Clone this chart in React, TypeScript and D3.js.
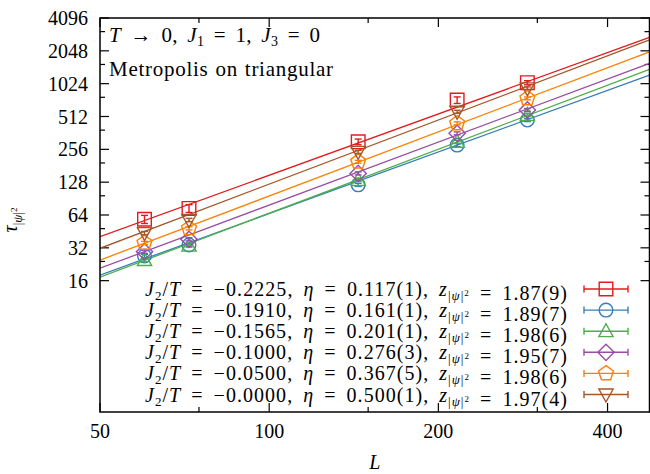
import React, { useEffect, useRef } from "react";
import * as d3 from "d3";

// system sizes
const sizes = [60, 72, 144, 216, 288];

// series labels
const j2t = ["−0.2225", "−0.1910", "−0.1565", "−0.1000", "−0.0500", "−0.0000"];
const etas = ["0.117(1)", "0.161(1)", "0.201(1)", "0.276(3)", "0.367(5)", "0.500(1)"];
const zs = ["1.87(9)", "1.89(7)", "1.98(6)", "1.95(7)", "1.98(6)", "1.97(4)"];
const colors = ["#e41a1c", "#377eb8", "#4daf4a", "#984ea3", "#ff7f00", "#a65628"];
const shapes = ["square", "circle", "triUp", "diamond", "pentagon", "triDown"];

// tau values
const tauRed = [58.5, 73.6, 300, 724, 1045];
const tauBlue = [26.9, 34.0, 121, 280, 475];
const tauGreen = [24.7, 33.5, 134, 300, 528];
const tauPurple = [29.5, 38.3, 154, 359, 588];
const tauOrange = [35.5, 48.3, 197, 443, 751];
const tauBrown = [43.7, 57.6, 243, 566, 928];

const errRed = [5, 6, 18, 50, 45];
const errBlue = [1, 1.2, 4, 9, 15];
const errGreen = [0.8, 1, 4, 9, 15];
const errPurple = [1, 1.3, 5, 11, 18];
const errOrange = [1.2, 1.6, 6, 14, 22];
const errBrown = [1.5, 2, 8, 18, 28];

// fitted power laws: values at the two ends of the x range
const fitL = [50, 475];
const fitRed = [40.5, 2723];
const fitBlue = [18.0, 1226];
const fitGreen = [17.2, 1387];
const fitPurple = [20.8, 1574];
const fitOrange = [24.7, 2008];
const fitBrown = [31.7, 2577];

const yTicks = [16, 32, 64, 128, 256, 512, 1024, 2048, 4096];
const yMinor = [24, 48, 96, 192, 384, 768, 1536, 3072];
const xTicks = [50, 100, 200, 400];
const xMinor = [75, 150, 300];

const series = [
  { tau: tauRed, err: errRed, fit: fitRed },
  { tau: tauBlue, err: errBlue, fit: fitBlue },
  { tau: tauGreen, err: errGreen, fit: fitGreen },
  { tau: tauPurple, err: errPurple, fit: fitPurple },
  { tau: tauOrange, err: errOrange, fit: fitOrange },
  { tau: tauBrown, err: errBrown, fit: fitBrown },
];

const FONT = "'Liberation Serif', 'DejaVu Serif', serif";

function markerPath(shape: string, s: number) {
  const p = d3.path();
  if (shape === "square") {
    p.rect(-s, -s, 2 * s, 2 * s);
  } else if (shape === "circle") {
    p.arc(0, 0, s, 0, 2 * Math.PI);
  } else if (shape === "triUp") {
    p.moveTo(0, -s * 1.1);
    p.lineTo(s * 1.05, s * 0.8);
    p.lineTo(-s * 1.05, s * 0.8);
    p.closePath();
  } else if (shape === "triDown") {
    p.moveTo(0, s * 1.1);
    p.lineTo(s * 1.05, -s * 0.8);
    p.lineTo(-s * 1.05, -s * 0.8);
    p.closePath();
  } else if (shape === "diamond") {
    p.moveTo(0, -s * 1.2);
    p.lineTo(s * 1.2, 0);
    p.lineTo(0, s * 1.2);
    p.lineTo(-s * 1.2, 0);
    p.closePath();
  } else {
    const r = s * 1.15;
    for (let i = 0; i < 5; i++) {
      const a = -Math.PI / 2 + (i * 2 * Math.PI) / 5;
      if (i === 0) p.moveTo(r * Math.cos(a), r * Math.sin(a));
      else p.lineTo(r * Math.cos(a), r * Math.sin(a));
    }
    p.closePath();
  }
  return p.toString();
}

// the original uses wider TeX fonts: open the word gaps a little, then spread the rest
function fitText(t: d3.Selection<SVGTextElement, unknown, null, undefined>, w: number, maxWs: number) {
  const n = t.node();
  if (!n) return;
  const len = n.getComputedTextLength();
  const gaps = (n.textContent || "").split(" ").length - 1;
  if (len <= 0 || len >= w) return;
  if (gaps > 0) t.style("word-spacing", `${Math.min((w - len) / gaps, maxWs)}px`);
  if (n.getComputedTextLength() < w) t.attr("textLength", w).attr("lengthAdjust", "spacing");
}

function App() {
  const svgRef = useRef<SVGSVGElement>(null);

  useEffect(() => {
    const W = 650, H = 474;
    const left = 100, right = 649.5, top = 18, bottom = 412;

    const svg = d3.select(svgRef.current);
    svg.selectAll("*").remove();
    svg.attr("width", W).attr("height", H).style("font-family", FONT);

    const x = d3.scaleLog().domain([50, 475]).range([left, right]);
    const y = d3.scaleLog().base(2).domain([1, 4096]).range([bottom, top]);

    svg.append("defs").append("clipPath").attr("id", "plotclip")
      .append("rect").attr("x", left).attr("y", top)
      .attr("width", right - left).attr("height", bottom - top);

    // ticks on all four sides, pointing in
    const tk = svg.append("g").attr("stroke", "#000").attr("stroke-width", 1.2);
    yTicks.forEach(v => {
      tk.append("line").attr("x1", left).attr("x2", left + 9).attr("y1", y(v)).attr("y2", y(v));
      tk.append("line").attr("x1", right).attr("x2", right - 9).attr("y1", y(v)).attr("y2", y(v));
    });
    yMinor.forEach(v => {
      tk.append("line").attr("x1", left).attr("x2", left + 5).attr("y1", y(v)).attr("y2", y(v));
      tk.append("line").attr("x1", right).attr("x2", right - 5).attr("y1", y(v)).attr("y2", y(v));
    });
    xTicks.forEach(v => {
      tk.append("line").attr("x1", x(v)).attr("x2", x(v)).attr("y1", bottom).attr("y2", bottom - 9);
      tk.append("line").attr("x1", x(v)).attr("x2", x(v)).attr("y1", top).attr("y2", top + 9);
    });
    xMinor.forEach(v => {
      tk.append("line").attr("x1", x(v)).attr("x2", x(v)).attr("y1", bottom).attr("y2", bottom - 5);
      tk.append("line").attr("x1", x(v)).attr("x2", x(v)).attr("y1", top).attr("y2", top + 5);
    });

    svg.append("g").selectAll("text").data(yTicks).enter().append("text")
      .attr("x", 88).attr("y", d => y(d)).attr("dy", "0.35em")
      .attr("text-anchor", "end").style("font-size", "20px").text(d => d);

    svg.append("g").selectAll("text").data(xTicks).enter().append("text")
      .attr("x", d => x(d)).attr("y", 438)
      .attr("text-anchor", "middle").style("font-size", "20px").text(d => d);

    // axis titles
    svg.append("text").attr("x", (left + right) / 2).attr("y", 469)
      .attr("text-anchor", "middle").style("font-size", "20px").style("font-style", "italic").text("L");

    const yl = svg.append("text").attr("transform", "translate(17,220) rotate(-90)")
      .attr("text-anchor", "middle").style("font-size", "20px");
    yl.append("tspan").style("font-style", "italic").text("τ");
    yl.append("tspan").attr("dy", 5).style("font-size", "13px").text("|");
    yl.append("tspan").style("font-size", "13px").style("font-style", "italic").text("ψ");
    yl.append("tspan").style("font-size", "13px").text("|");
    yl.append("tspan").attr("dy", -5).style("font-size", "9px").text("2");

    // fit lines
    const line = d3.line<number>().x((_, i) => x(fitL[i])).y(d => y(d));
    const fits = svg.append("g").attr("clip-path", "url(#plotclip)");
    series.forEach((s, i) => {
      fits.append("path").datum(s.fit).attr("d", line)
        .attr("fill", "none").attr("stroke", colors[i]).attr("stroke-width", 1.3);
    });

    // data points with error bars
    series.forEach((s, i) => {
      const g = svg.append("g").attr("stroke", colors[i]).attr("fill", "none").attr("stroke-width", 1.4);
      s.tau.forEach((v, j) => {
        const cx = x(sizes[j]);
        const y1 = y(v - s.err[j]), y2 = y(v + s.err[j]);
        g.append("line").attr("x1", cx).attr("x2", cx).attr("y1", y1).attr("y2", y2);
        g.append("line").attr("x1", cx - 3.5).attr("x2", cx + 3.5).attr("y1", y1).attr("y2", y1);
        g.append("line").attr("x1", cx - 3.5).attr("x2", cx + 3.5).attr("y1", y2).attr("y2", y2);
        g.append("path").attr("d", markerPath(shapes[i], 6.8))
          .attr("transform", `translate(${cx},${y(v)})`);
      });
    });

    // top annotations
    const a1 = svg.append("text").attr("x", 109).attr("y", 42).style("font-size", "21px");
    a1.append("tspan").style("font-style", "italic").text("T");
    a1.append("tspan").text(" → 0, ");
    a1.append("tspan").style("font-style", "italic").text("J");
    a1.append("tspan").attr("dy", 4).style("font-size", "14px").text("1");
    a1.append("tspan").attr("dy", -4).text(" = 1, ");
    a1.append("tspan").style("font-style", "italic").text("J");
    a1.append("tspan").attr("dy", 4).style("font-size", "14px").text("3");
    a1.append("tspan").attr("dy", -4).text(" = 0");
    fitText(a1, 211, 4);

    const a2 = svg.append("text").attr("x", 109).attr("y", 76).style("font-size", "21px")
      .text("Metropolis on triangular");
    fitText(a2, 224, 1);

    // legend
    const leg = svg.append("g");
    j2t.forEach((lab, i) => {
      const ly = 289 + i * 21.1;
      const t = leg.append("text").attr("x", 145).attr("y", ly).attr("dy", "0.35em")
        .style("font-size", "20px");
      t.append("tspan").style("font-style", "italic").text("J");
      t.append("tspan").attr("dy", 4).style("font-size", "13px").text("2");
      t.append("tspan").attr("dy", -4).text("/");
      t.append("tspan").style("font-style", "italic").text("T");
      t.append("tspan").text(` = ${lab}, `);
      t.append("tspan").style("font-style", "italic").text("η");
      t.append("tspan").text(` = ${etas[i]}, `);
      t.append("tspan").style("font-style", "italic").text("z");
      t.append("tspan").attr("dy", 4).style("font-size", "13px").text("|");
      t.append("tspan").style("font-size", "13px").style("font-style", "italic").text("ψ");
      t.append("tspan").style("font-size", "13px").text("|");
      t.append("tspan").attr("dy", -4).style("font-size", "9px").text("2");
      t.append("tspan").attr("dy", 4).text(` = ${zs[i]}`);
      fitText(t, 422, 4);

      const g = leg.append("g").attr("stroke", colors[i]).attr("fill", "none").attr("stroke-width", 1.4);
      g.append("line").attr("x1", 584).attr("x2", 628).attr("y1", ly).attr("y2", ly);
      g.append("line").attr("x1", 584).attr("x2", 584).attr("y1", ly - 3.5).attr("y2", ly + 3.5);
      g.append("line").attr("x1", 628).attr("x2", 628).attr("y1", ly - 3.5).attr("y2", ly + 3.5);
      g.append("path").attr("d", markerPath(shapes[i], 6.8)).attr("transform", `translate(606,${ly})`);
    });

    // frame
    svg.append("rect").attr("x", left).attr("y", top)
      .attr("width", right - left).attr("height", bottom - top)
      .attr("fill", "none").attr("stroke", "#000").attr("stroke-width", 1.5);
  }, []);

  return (
    <div style={{ position: "absolute", left: 0, top: 0 }}>
      <svg ref={svgRef}></svg>
    </div>
  );
}

export default App;
